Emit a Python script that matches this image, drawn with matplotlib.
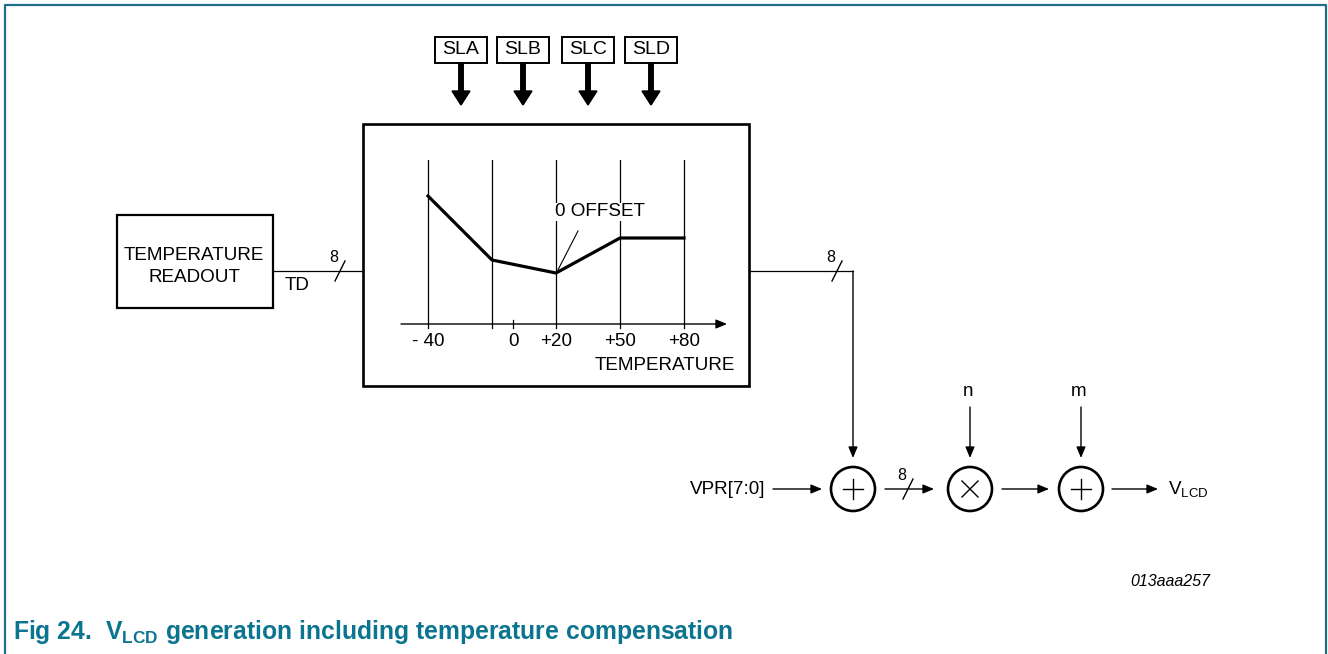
import matplotlib.pyplot as plt
from matplotlib.patches import Rectangle, Circle

plt.rcParams['font.family'] = ['Liberation Sans', 'DejaVu Sans']
plt.rcParams['mathtext.fontset'] = 'custom'
plt.rcParams['mathtext.rm'] = 'Liberation Sans'
plt.rcParams['mathtext.bf'] = 'Liberation Sans:bold'
plt.rcParams['mathtext.it'] = 'Liberation Sans:italic'

# slope registers feeding the compensation block
sl_labels = ['SLA', 'SLB', 'SLC', 'SLD']

# temperature compensation curve (relative level, 0 at the axis)
temps = [-40, -10, 20, 50, 80]
curve_level = [128, 64, 51, 86, 86]
tick_temps = [-40, 0, 20, 50, 80]
tick_labels = ['- 40', '0', '+20', '+50', '+80']
bus_width = '8'

# output chain
stage_ops = ['+', 'x', '+']
stage_inputs = ['', 'n', 'm']

W, H = 1328, 654
fig = plt.figure(figsize=(W / 100, H / 100), dpi=100)
ax = fig.add_axes([0, 0, 1, 1])
ax.set_xlim(0, W)
ax.set_ylim(H, 0)
ax.axis('off')

FS = 13.6
teal = '#1c6f87'


def arrow(a, x0, y0, x1, y1, lw=1.0):
    a.annotate('', xy=(x1, y1), xytext=(x0, y0),
               arrowprops=dict(arrowstyle='-|>,head_length=0.6,head_width=0.25',
                               lw=lw, color='k', shrinkA=0, shrinkB=0,
                               mutation_scale=11))


def bus(cx, cy):
    ax.plot([cx + 5, cx - 5], [cy - 10, cy + 10], color='k', lw=1.0)
    ax.text(cx - 6, cy - 13, bus_width, fontsize=11.5, ha='center', va='center')


# frame
ax.plot([5, 5, 1326, 1326], [654, 5, 5, 654], color=teal, lw=1.6)

# SL inputs
sl_x = [461, 523, 588, 651]
for x, lbl in zip(sl_x, sl_labels):
    ax.add_patch(Rectangle((x - 26, 37), 52, 26, fill=False, lw=1.4))
    ax.text(x, 50, lbl, fontsize=14, ha='center', va='center')
    ax.arrow(x, 63, 0, 42, width=4.5, head_width=18, head_length=14,
             length_includes_head=True, color='k')

# compensation block
ax.add_patch(Rectangle((363, 124), 386, 262, fill=False, lw=1.9))

# temperature readout
ax.add_patch(Rectangle((117, 215), 156, 93, fill=False, lw=1.6))
ax.text(194, 256, 'TEMPERATURE', fontsize=FS, ha='center', va='center')
ax.text(194, 277, 'READOUT', fontsize=FS, ha='center', va='center')
ax.plot([273, 363], [271, 271], color='k', lw=0.9)
ax.text(285, 286, 'TD', fontsize=FS, ha='left', va='center')
bus(340, 271)

# inner curve on its own axes, 2.133 px per degree
px_per_deg = 2.1333
left_px, right_px = 395, 735
cx = fig.add_axes([left_px / W, 1 - 330 / H, (right_px - left_px) / W, 170 / H])
cx.set_xlim(-40 + (left_px - 428) / px_per_deg, -40 + (right_px - 428) / px_per_deg)
cx.set_ylim(-6, 164)
cx.axis('off')
cx.patch.set_alpha(0)
for t in temps:
    cx.plot([t, t], [-4, 164], color='k', lw=0.9)
cx.plot(temps, curve_level, color='k', lw=2.3)
arrow(cx, -40 + (401 - 428) / px_per_deg, 0, -40 + (727 - 428) / px_per_deg, 0)
cx.plot([0, 0], [-4, 4], color='k', lw=0.9)
for t, lbl in zip(tick_temps, tick_labels):
    cx.text(t, -18, lbl, fontsize=FS, ha='center', va='center', clip_on=False)
cx.plot([30.3, 20.9], [93, 54], color='k', lw=0.8)
cx.text(19.5, 112, '0 OFFSET', fontsize=FS, ha='left', va='center',
        bbox=dict(facecolor='white', edgecolor='none', pad=0.5))
ax.text(735, 366, 'TEMPERATURE', fontsize=FS, ha='right', va='center')

# output path
ax.plot([749, 853], [271, 271], color='k', lw=0.9)
bus(837, 271)
arrow(ax, 853, 271, 853, 458)

yc = 489
centers = [853, 970, 1081]
ax.text(765, yc, 'VPR[7:0]', fontsize=FS, ha='right', va='center')
arrow(ax, 773, yc, 822, yc)
for x, op, inp in zip(centers, stage_ops, stage_inputs):
    ax.add_patch(Circle((x, yc), 22, fill=False, lw=1.9))
    if op == '+':
        ax.plot([x - 10, x + 10], [yc, yc], color='k', lw=1.0)
        ax.plot([x, x], [yc - 10, yc + 10], color='k', lw=1.0)
    else:
        ax.plot([x - 8, x + 8], [yc - 8, yc + 8], color='k', lw=1.0)
        ax.plot([x - 8, x + 8], [yc + 8, yc - 8], color='k', lw=1.0)
    if inp:
        ax.text(x - 2, 391, inp, fontsize=FS, ha='center', va='center')
        arrow(ax, x, 407, x, 458)
arrow(ax, 885, yc, 934, yc)
bus(908, yc)
arrow(ax, 1002, yc, 1049, yc)
arrow(ax, 1112, yc, 1158, yc)
ax.text(1168, yc, r'V$_{\mathrm{LCD}}$', fontsize=FS, ha='left', va='center')

ax.text(1130, 581, '013aaa257', fontsize=11.5, style='italic', ha='left', va='center')

ax.text(13, 632, r'Fig 24.  V$_{\mathbf{LCD}}$ generation including temperature compensation',
        fontsize=17.8, fontweight='bold', color='#0b7590', ha='left', va='center')

fig.savefig('out.png', dpi=100)
